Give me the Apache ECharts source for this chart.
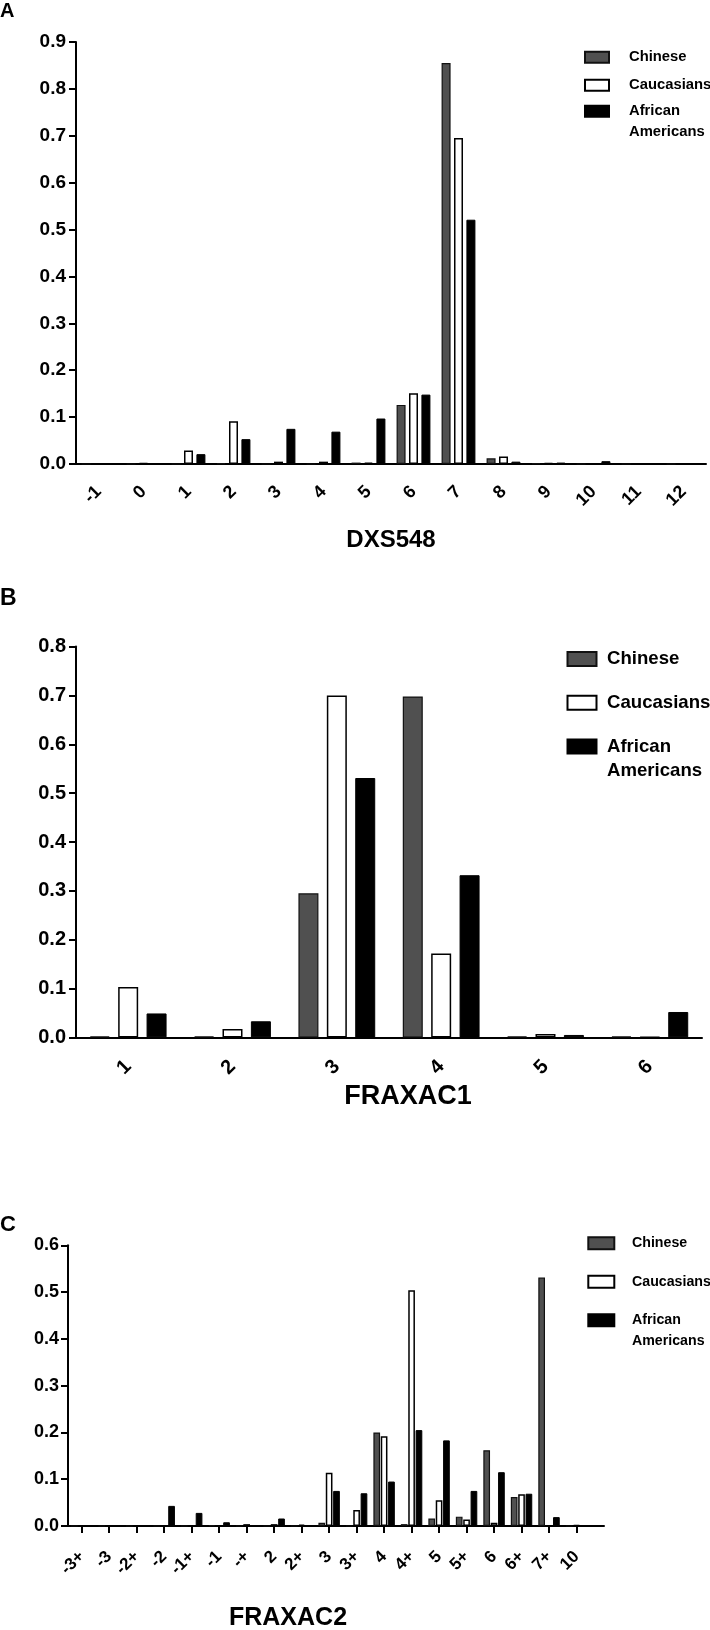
<!DOCTYPE html>
<html><head><meta charset="utf-8">
<script src="https://cdn.jsdelivr.net/npm/echarts@6/dist/echarts.min.js"></script>
<style>html,body{margin:0;padding:0;background:#fff}#c{width:710px;height:1630px}</style>
</head><body><div id="c"></div>
<script>
// ---------- data ----------
const seriesNames = ['Chinese', 'Caucasians', 'African Americans'];

const catsA = ['-1','0','1','2','3','4','5','6','7','8','9','10','11','12'];
const chineseA = [0, 0, 0, 0.002, 0, 0, 0.003, 0.126, 0.855, 0.012, 0.002, 0, 0, 0];
const caucA    = [0, 0.002, 0.029, 0.091, 0.005, 0.005, 0.003, 0.151, 0.695, 0.016, 0.002, 0, 0, 0];
const afrA     = [0.001, 0.002, 0.021, 0.053, 0.075, 0.069, 0.097, 0.148, 0.521, 0.005, 0.003, 0.006, 0.001, 0.001];
const yMaxA = 0.9;

const catsB = ['1','2','3','4','5','6'];
const chineseB = [0.002, 0.002, 0.295, 0.698, 0.002, 0.002];
const caucB    = [0.103, 0.017, 0.700, 0.172, 0.007, 0.001];
const afrB     = [0.049, 0.033, 0.531, 0.332, 0.005, 0.052];
const yMaxB = 0.8;

const catsC = ['-3+','-3','-2+','-2','-1+','-1','-+','2','2+','3','3+','4','4+','5','5+','6','6+','7+','10'];
const chineseC = [0, 0, 0, 0, 0, 0.002, 0, 0, 0, 0.007, 0, 0.200, 0.004, 0.016, 0.020, 0.162, 0.062, 0.531, 0];
const caucC    = [0, 0, 0, 0, 0, 0, 0.004, 0.004, 0.003, 0.114, 0.034, 0.192, 0.504, 0.055, 0.014, 0.007, 0.068, 0, 0.002];
const afrC     = [0.001, 0.001, 0.001, 0.043, 0.028, 0.008, 0.002, 0.016, 0.002, 0.075, 0.070, 0.095, 0.205, 0.183, 0.075, 0.115, 0.069, 0.019, 0];
const yMaxC = 0.6;

// ---------- styling ----------
const FONT = '"Liberation Sans", Arial, Helvetica, sans-serif';
const barStyles = [
  { color: '#505050', borderColor: '#111', borderWidth: 1.2 },
  { color: '#ffffff', borderColor: '#000', borderWidth: 1.5 },
  { color: '#000000', borderColor: '#000', borderWidth: 1 }
];
const fmt1 = v => (Math.round(v * 10) / 10).toFixed(1);

function yAxisOf(gi, max, fs, margin) {
  return {
    type: 'value', gridIndex: gi, min: 0, max: max, interval: 0.1,
    axisLine: { show: true, onZero: false, lineStyle: { color: '#000', width: 2 } },
    axisTick: { show: true, length: 7, lineStyle: { color: '#000', width: 2 } },
    splitLine: { show: false },
    axisLabel: { formatter: fmt1, fontSize: fs, fontWeight: 'bold', color: '#000', fontFamily: FONT, margin: margin }
  };
}
function nameStyle(fs, pad) {
  return { fontSize: fs, fontWeight: 'bold', color: '#000', fontFamily: FONT, padding: pad };
}
function legendPair(left, top1, top2, iw, ih, gap, fs, lh, padLeft) {
  const base = {
    orient: 'vertical', left: left, padding: 0, itemWidth: iw, itemHeight: ih, itemGap: gap,
    icon: 'rect', selectedMode: false
  };
  const ts = { fontSize: fs, fontWeight: 'bold', color: '#000', fontFamily: FONT, lineHeight: lh, padding: [0, 0, 0, padLeft] };
  return [
    Object.assign({}, base, { top: top1, data: ['Chinese', 'Caucasians'], textStyle: ts }),
    Object.assign({}, base, { top: top2, data: ['African Americans'],
      formatter: () => '\nAfrican\nAmericans', textStyle: ts })
  ];
}

const idxC = catsC.map((c, i) => i);

const option = {
  backgroundColor: '#fff',
  animation: false,
  title: [
    { text: 'A', left: 0, top: 1, padding: 0, textStyle: { fontSize: 20, fontWeight: 'bold', color: '#000', fontFamily: FONT } },
    { text: 'B', left: 0, top: 587, padding: 0, textStyle: { fontSize: 23, fontWeight: 'bold', color: '#000', fontFamily: FONT } },
    { text: 'C', left: 0, top: 1214, padding: 0, textStyle: { fontSize: 22, fontWeight: 'bold', color: '#000', fontFamily: FONT } }
  ],
  legend: [].concat(
    legendPair(584, 46.7, 79.7, 24, 11, 7, 14.8, 21, 15),
    legendPair(566.5, 647, 710.4, 29, 14, 19.7, 18.6, 24, 5.5),
    legendPair(587.3, 1232.7, 1288.7, 26, 12, 17.5, 14.2, 21, 12.7)
  ),
  grid: [
    { left: 76, top: 42, width: 630, height: 422, containLabel: false, outerBoundsMode: 'none' },
    { left: 76, top: 646.6, width: 626, height: 390.8, containLabel: false, outerBoundsMode: 'none' },
    { left: 68, top: 1245.3, width: 536, height: 280.7, containLabel: false, outerBoundsMode: 'none' }
  ],
  xAxis: [
    {
      type: 'category', gridIndex: 0, data: catsA, boundaryGap: true,
      axisLine: { lineStyle: { color: '#000', width: 2 } },
      axisTick: { alignWithLabel: true, length: 7, lineStyle: { color: '#000', width: 2 } },
      axisLabel: { interval: 0, rotate: 45, margin: 25, fontSize: 18, fontWeight: 'bold', color: '#000', fontFamily: FONT },
      name: 'DXS548', nameLocation: 'middle', nameGap: 64.5, nameMoveOverlap: false,
      nameTextStyle: nameStyle(24, [0, 0, 0, 0])
    },
    {
      type: 'category', gridIndex: 1, data: catsB, boundaryGap: true,
      axisLine: { lineStyle: { color: '#000', width: 2 } },
      axisTick: { alignWithLabel: true, length: 7, lineStyle: { color: '#000', width: 2 } },
      axisLabel: { interval: 0, rotate: 45, margin: 26, fontSize: 20, fontWeight: 'bold', color: '#000', fontFamily: FONT },
      name: 'FRAXAC1', nameLocation: 'middle', nameGap: 45.8, nameMoveOverlap: false,
      nameTextStyle: nameStyle(27, [0, 0, 0, 38])
    },
    {
      type: 'value', gridIndex: 2, min: -0.5, max: 19,
      splitLine: { show: false },
      axisLine: { onZero: false, lineStyle: { color: '#000', width: 2 } },
      axisTick: { show: true, customValues: idxC, length: 7, lineStyle: { color: '#000', width: 2 } },
      axisLabel: {
        customValues: idxC, rotate: 45, margin: 28, fontSize: 17, fontWeight: 'bold', color: '#000', fontFamily: FONT,
        formatter: v => catsC[Math.round(v)] || ''
      },
      name: 'FRAXAC2', nameLocation: 'middle', nameGap: 80, nameMoveOverlap: false,
      nameTextStyle: nameStyle(25, [0, 96, 0, 0])
    }
  ],
  yAxis: [
    yAxisOf(0, yMaxA, 19, 10),
    yAxisOf(1, yMaxB, 20, 10),
    yAxisOf(2, yMaxC, 18, 9)
  ],
  series: []
};

const setA = [chineseA, caucA, afrA];
const setB = [chineseB, caucB, afrB];
const setC = [chineseC, caucC, afrC];
seriesNames.forEach((n, k) => {
  option.series.push({ type: 'bar', name: n, xAxisIndex: 0, yAxisIndex: 0, data: setA[k],
    barWidth: 9, barGap: '38%', itemStyle: barStyles[k] });
});
seriesNames.forEach((n, k) => {
  option.series.push({ type: 'bar', name: n, xAxisIndex: 1, yAxisIndex: 1, data: setB[k],
    barWidth: 20, barGap: '42%', itemStyle: barStyles[k] });
});
seriesNames.forEach((n, k) => {
  option.series.push({ type: 'bar', name: n, xAxisIndex: 2, yAxisIndex: 2,
    data: setC[k].map((v, i) => [idxC[i], v]),
    barWidth: 6.7, barGap: '10%', itemStyle: barStyles[k] });
});

const chart = echarts.init(document.getElementById('c'), null, { renderer: 'canvas' });
chart.setOption(option);
</script>
</body></html>
